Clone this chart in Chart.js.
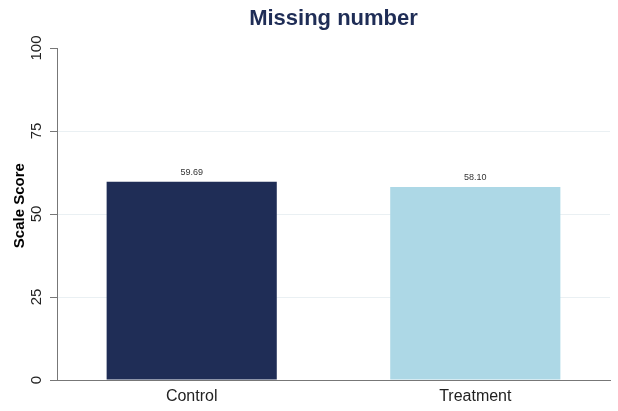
<!DOCTYPE html>
<html>
<head>
<meta charset="utf-8">
<script src="https://cdn.jsdelivr.net/npm/chart.js@4.4.1/dist/chart.umd.min.js"></script>
<style>
  html, body { margin: 0; padding: 0; background: #fff; }
  #wrap { width: 618px; height: 411px; }
</style>
</head>
<body>
<div id="wrap"><canvas id="c"></canvas></div>
<script>
const categories = ['Control', 'Treatment'];
const scores = [59.69, 58.10];
const barColors = ['#1f2d56', '#add8e6'];
const yTicks = [0, 25, 50, 75, 100];

const font = "'Liberation Sans', Arial, sans-serif";

// value labels above each bar
const valueLabels = {
    id: 'valueLabels',
    afterDatasetsDraw(chart) {
        const ctx = chart.ctx;
        const meta = chart.getDatasetMeta(0);
        ctx.save();
        ctx.font = '9px ' + font;
        ctx.fillStyle = '#333';
        ctx.textAlign = 'center';
        ctx.textBaseline = 'bottom';
        meta.data.forEach((bar, i) => {
            ctx.fillText(scores[i].toFixed(2), bar.x, bar.y - 5);
        });
        ctx.restore();
    }
};

new Chart(document.getElementById('c'), {
    type: 'bar',
    data: {
        datasets: [{
            data: categories.map((c, i) => ({ x: i, y: scores[i] })),
            backgroundColor: barColors,
            borderWidth: 0,
            barPercentage: 0.6,
            categoryPercentage: 1
        }]
    },
    options: {
        responsive: true,
        maintainAspectRatio: false,
        animation: false,
        layout: { padding: { left: 4, right: 8, top: 0, bottom: 0 } },
        plugins: {
            legend: { display: false },
            tooltip: { enabled: false },
            title: {
                display: true,
                text: 'Missing number',
                fullSize: false,
                color: '#1f2d56',
                font: { family: font, size: 22, weight: 'bold' },
                padding: { top: 6, bottom: 15.6 }
            }
        },
        scales: {
            x: {
                type: 'linear',
                offset: false,
                min: -0.475,
                max: 1.475,
                afterBuildTicks: s => { s.ticks = categories.map((c, i) => ({ value: i })); },
                afterFit: s => { s.height = 31; },
                ticks: {
                    callback: v => categories[v],
                    color: '#222',
                    font: { family: font, size: 16 },
                    padding: 7
                },
                grid: { display: false, drawTicks: false },
                border: { display: true, color: '#777', width: 1 }
            },
            y: {
                min: 0,
                max: 100,
                afterBuildTicks: s => { s.ticks = yTicks.map(v => ({ value: v })); },
                afterFit: s => { s.width = 53; },
                ticks: {
                    color: '#222',
                    font: { family: font, size: 15 },
                    minRotation: 90,
                    maxRotation: 90,
                    crossAlign: 'center',
                    padding: 1
                },
                title: {
                    display: true,
                    text: '    Scale Score',
                    color: '#000',
                    font: { family: font, size: 15, weight: 'bold' },
                    padding: { top: 7, bottom: 0 }
                },
                grid: {
                    color: c => (c.tick && (c.tick.value === 0 || c.tick.value === 100)) ? 'rgba(0,0,0,0)' : '#eaf0f3',
                    tickColor: '#777',
                    tickLength: 7,
                    lineWidth: 1
                },
                border: { display: true, color: '#777', width: 1 }
            }
        }
    },
    plugins: [valueLabels]
});
</script>
</body>
</html>
